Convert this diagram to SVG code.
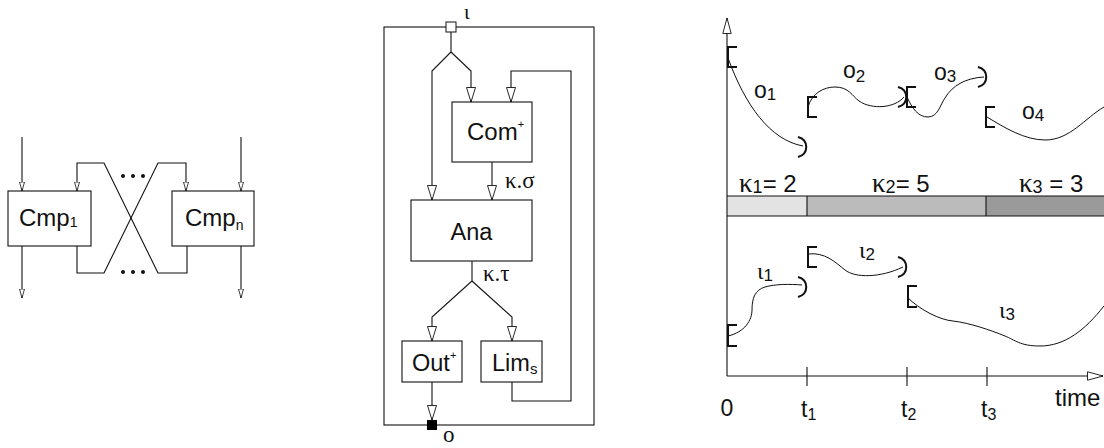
<svg xmlns="http://www.w3.org/2000/svg" width="1104" height="448" viewBox="0 0 1104 448">
<style>
.ln{fill:none;stroke:#111;stroke-width:1.1}
.bx{fill:#fff;stroke:#111;stroke-width:1.1}
.br{fill:none;stroke:#111;stroke-width:2}
.cv{fill:none;stroke:#111;stroke-width:1}
.s{font-family:"Liberation Sans",Arial,sans-serif;fill:#111}
.g{font-family:"Liberation Serif","Times New Roman",serif;fill:#111}
</style>
<defs>
<marker id="a1" markerWidth="10" markerHeight="6" refX="9" refY="3" orient="auto" markerUnits="userSpaceOnUse"><path d="M0,0.5 L9,3 L0,5.5 z" fill="#fff" stroke="#111" stroke-width="0.8"/></marker>
<marker id="a2" markerWidth="16" markerHeight="10" refX="15" refY="5" orient="auto" markerUnits="userSpaceOnUse"><path d="M0.5,0.5 L15,5 L0.5,9.5 z" fill="#fff" stroke="#111" stroke-width="0.9"/></marker>
<marker id="a3" markerWidth="17" markerHeight="10" refX="16" refY="5" orient="auto" markerUnits="userSpaceOnUse"><path d="M0.5,0.8 L16,5 L0.5,9.2 z" fill="#fff" stroke="#111" stroke-width="0.9"/></marker>
</defs>

<!-- Left: components -->
<g id="connectors-left">
<path class="ln" d="M22,137 V191" marker-end="url(#a1)"/>
<path class="ln" d="M241,137 V191" marker-end="url(#a1)"/>
<path class="ln" d="M22,246 V298" marker-end="url(#a1)"/>
<path class="ln" d="M241,246 V298" marker-end="url(#a1)"/>
<path class="ln" d="M187,246 V273 H158 L104,163 H77 V191" marker-end="url(#a1)"/>
<path class="ln" d="M77,246 V273 H104 L158,163 H186 V191" marker-end="url(#a1)"/>
<g fill="#111">
<circle cx="123" cy="176" r="2"/><circle cx="133" cy="176" r="2"/><circle cx="143" cy="176" r="2"/>
<circle cx="123" cy="272" r="2"/><circle cx="133" cy="272" r="2"/><circle cx="143" cy="272" r="2"/>
</g>
</g>
<g id="cmp1">
<rect class="bx" x="8" y="191" width="83" height="55"/>
<text class="s" x="19" y="226" font-size="24">Cmp<tspan font-size="14" dy="1">1</tspan></text>
</g>
<g id="cmpn">
<rect class="bx" x="172" y="191" width="82" height="55"/>
<text class="s" x="185" y="226" font-size="24">Cmp<tspan font-size="14" dy="4">n</tspan></text>
</g>

<!-- Middle: architecture -->
<g id="frame">
<rect class="ln" x="384" y="27" width="210" height="398"/>
</g>
<g id="connectors-mid">
<path class="ln" d="M451,32 V52 L432,71 V200" marker-end="url(#a2)"/>
<path class="ln" d="M451,52 L471,71 V102" marker-end="url(#a2)"/>
<path class="ln" d="M512,382 V401 H571 V71 H511 V102" marker-end="url(#a2)"/>
<path class="ln" d="M492,162 V200" marker-end="url(#a2)"/>
<path class="ln" d="M472,261 V281 L432,317 V341" marker-end="url(#a2)"/>
<path class="ln" d="M472,281 L512,317 V341" marker-end="url(#a2)"/>
<path class="ln" d="M432,382 V420" marker-end="url(#a2)"/>
<text class="g" x="505" y="188" font-size="23">κ.σ</text>
<text class="g" x="483" y="281" font-size="23">κ.τ</text>
</g>
<g id="in">
<rect x="446" y="22" width="10" height="10" fill="#fff" stroke="#111" stroke-width="1"/>
<text class="g" x="464" y="19" font-size="21">ι</text>
</g>
<g id="out">
<rect x="427" y="420" width="10" height="10" fill="#000"/>
<text class="g" x="443" y="442" font-size="23">ο</text>
</g>
<g id="com">
<rect class="bx" x="452" y="102" width="80" height="60"/>
<text class="s" x="467" y="140" font-size="24">Com<tspan font-size="11" dy="-12">+</tspan></text>
</g>
<g id="ana">
<rect class="bx" x="411" y="200" width="121" height="61"/>
<text class="s" x="471.5" y="240" font-size="23.5" text-anchor="middle">Ana</text>
</g>
<g id="outbox">
<rect class="bx" x="402" y="341" width="60" height="41"/>
<text class="s" x="412" y="371" font-size="23.5">Out<tspan font-size="11" dy="-12">+</tspan></text>
</g>
<g id="lim">
<rect class="bx" x="481" y="341" width="61" height="41"/>
<text class="s" x="492" y="371" font-size="23.5">Lim<tspan font-size="15" dy="3">s</tspan></text>
</g>

<!-- Right: timeline -->
<g id="band">
<rect x="727" y="196" width="80" height="20" fill="#e3e3e3"/>
<rect x="807" y="196" width="179" height="20" fill="#bbbbbb"/>
<rect x="986" y="196" width="118" height="20" fill="#9a9a9a"/>
<path class="ln" d="M727,196 H1104 M727,216 H1104 M807,196 V216 M986,196 V216"/>
<text x="739" y="192" font-size="24"><tspan class="g" font-size="27">κ</tspan><tspan class="s" font-size="18" dy="1">1</tspan><tspan class="s" dy="-1">= 2</tspan></text>
<text x="872" y="192" font-size="24"><tspan class="g" font-size="27">κ</tspan><tspan class="s" font-size="18" dy="1">2</tspan><tspan class="s" dy="-1">= 5</tspan></text>
<text x="1019" y="192" font-size="24"><tspan class="g" font-size="27">κ</tspan><tspan class="s" font-size="18" dy="1">3</tspan><tspan class="s" dy="-1"> = 3</tspan></text>
</g>
<g id="axes">
<path class="ln" d="M727,376 V18" marker-end="url(#a3)"/>
<path class="ln" d="M727,376 H1103" marker-end="url(#a3)"/>
<path class="ln" d="M807,367 V386 M907,367 V386 M987,367 V386"/>
<text class="s" x="727" y="416" font-size="23" text-anchor="middle">0</text>
<text class="s" x="801" y="417" font-size="23">t<tspan font-size="16" dy="3">1</tspan></text>
<text class="s" x="901" y="417" font-size="23">t<tspan font-size="16" dy="3">2</tspan></text>
<text class="s" x="981" y="417" font-size="23">t<tspan font-size="16" dy="3">3</tspan></text>
<text class="s" x="1055" y="406" font-size="24">time</text>
</g>
<g id="outputs">
<path class="br" d="M737,47 H728 V67 H737"/>
<path class="cv" d="M728,58 C745,105 770,140 803,146"/>
<path class="br" d="M798,137 C809,140 809,154 798,157"/>
<text class="s" x="754" y="98" font-size="23">o<tspan font-size="17" dy="2">1</tspan></text>

<path class="br" d="M817,97 H808 V117 H817"/>
<path class="cv" d="M808,107 C812,93 824,87 835,87 C849,87 852,96 859,101 C872,110 895,108 904,97"/>
<path class="br" d="M898,87 C909,90 909,104 898,107"/>
<text class="s" x="843" y="78" font-size="23">o<tspan font-size="17" dy="4">2</tspan></text>

<path class="br" d="M916,87 H907 V107 H916"/>
<path class="cv" d="M907,97 C912,108 918,117 928,117 C938,117 940,105 945,98 C952,86 965,78 984,77"/>
<path class="br" d="M978,67 C989,70 989,84 978,87"/>
<text class="s" x="934" y="80" font-size="23">o<tspan font-size="17" dy="2">3</tspan></text>

<path class="br" d="M995,107 H986 V127 H995"/>
<path class="cv" d="M987,117 C1005,128 1025,140 1045,140 C1070,140 1085,118 1104,107"/>
<text class="s" x="1022" y="119" font-size="23">o<tspan font-size="17" dy="2">4</tspan></text>
</g>
<g id="inputs">
<path class="br" d="M737,325 H728 V346 H737"/>
<path class="cv" d="M728,336 C745,332 752,320 752,310 C752,298 755,290 765,287 C775,284 790,284 802,285"/>
<path class="br" d="M798,277 C809,280 809,294 798,297"/>
<text class="g" x="757" y="279" font-size="24">ι<tspan class="s" font-size="17" dy="2">1</tspan></text>

<path class="br" d="M817,247 H808 V267 H817"/>
<path class="cv" d="M808,254 C825,252 835,262 845,270 C855,278 880,278 903,267"/>
<path class="br" d="M898,257 C909,260 909,274 898,277"/>
<text class="g" x="859" y="258" font-size="24">ι<tspan class="s" font-size="17" dy="2">2</tspan></text>

<path class="br" d="M917,286 H908 V307 H917"/>
<path class="cv" d="M907,297 C920,310 940,320 953,321 C970,323 990,330 1005,336 C1015,340 1020,346 1040,346 C1065,346 1085,330 1104,306"/>
<text class="g" x="999" y="318" font-size="24">ι<tspan class="s" font-size="17" dy="2">3</tspan></text>
</g>
</svg>
